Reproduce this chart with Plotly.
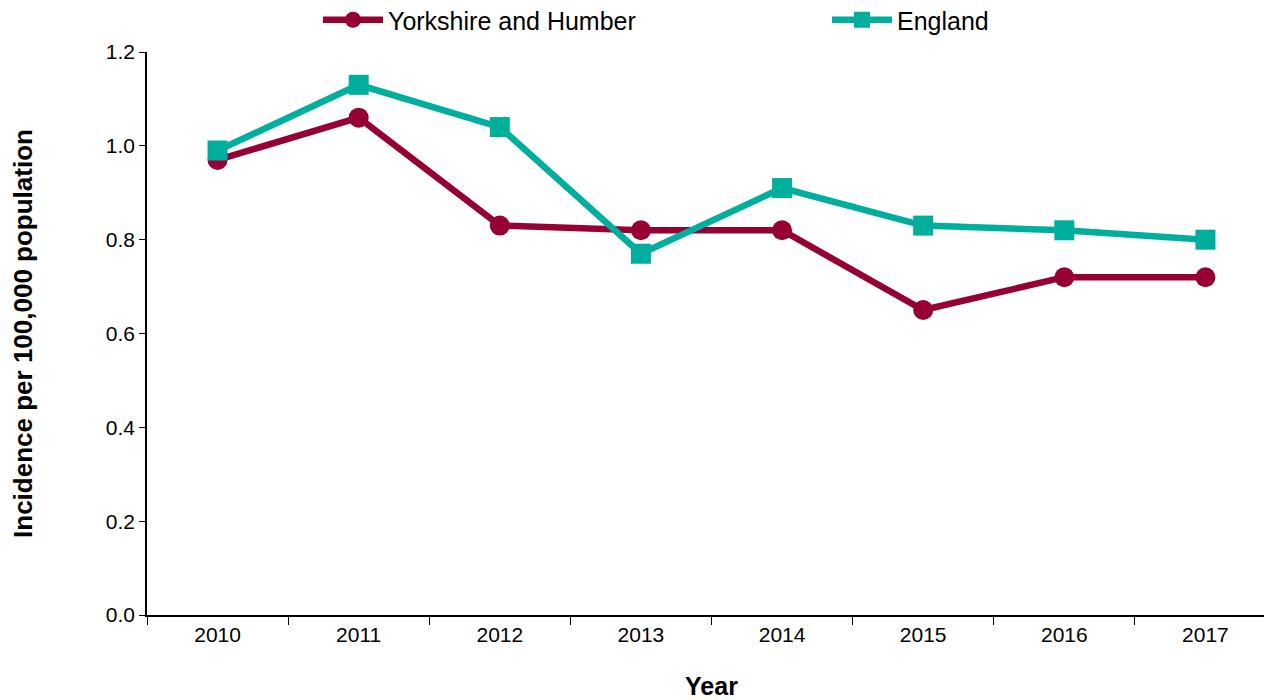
import plotly.graph_objects as go

years = ["2010", "2011", "2012", "2013", "2014", "2015", "2016", "2017"]
yorkshire = [0.97, 1.06, 0.83, 0.82, 0.82, 0.65, 0.72, 0.72]
england = [0.99, 1.13, 1.04, 0.77, 0.91, 0.83, 0.82, 0.80]
y_ticks = [0.0, 0.2, 0.4, 0.6, 0.8, 1.0, 1.2]

fig = go.Figure()
fig.add_trace(go.Scatter(
    x=years, y=yorkshire, name="Yorkshire and Humber", mode="lines+markers",
    line=dict(color="#960032", width=6.5),
    marker=dict(symbol="circle", size=20, color="#960032"),
    legend="legend",
))
fig.add_trace(go.Scatter(
    x=years, y=england, name="England", mode="lines+markers",
    line=dict(color="#00AE9E", width=6.5),
    marker=dict(symbol="square", size=20, color="#00AE9E"),
    legend="legend2",
))

font_family = "Liberation Sans, Arial, sans-serif"
leg_common = dict(
    orientation="h", xref="container", yref="container",
    xanchor="left", y=1 - 12 / 700, yanchor="middle",
    itemwidth=60, font=dict(size=25), bgcolor="rgba(0,0,0,0)",
)
fig.update_layout(
    width=1272, height=700,
    margin=dict(l=139, r=4, t=44, b=93),
    plot_bgcolor="white", paper_bgcolor="white",
    font=dict(family=font_family, size=21, color="black"),
    showlegend=True,
    legend=dict(x=310 / 1272, **leg_common),
    legend2=dict(x=819 / 1272, **leg_common),
    xaxis=dict(
        type="category", range=[-0.5, 7.5],
        showline=True, linecolor="black", linewidth=1.5,
        ticks="outside", tickson="boundaries", ticklen=8, tickcolor="black",
        showgrid=False, zeroline=False, automargin=False,
        tickfont=dict(size=21),
        title=dict(text="<b>Year</b>", font=dict(size=25), standoff=33),
    ),
    yaxis=dict(
        range=[0, 1.2], tickvals=y_ticks, tickformat=".1f",
        showline=True, linecolor="black", linewidth=1.5,
        ticks="outside", ticklen=6, tickcolor="black",
        showgrid=False, zeroline=False, automargin=False,
        tickfont=dict(size=21),
        title=dict(text="<b>Incidence per 100,000 population</b>", font=dict(size=26), standoff=80),
    ),
)

fig.write_html("out.html")
